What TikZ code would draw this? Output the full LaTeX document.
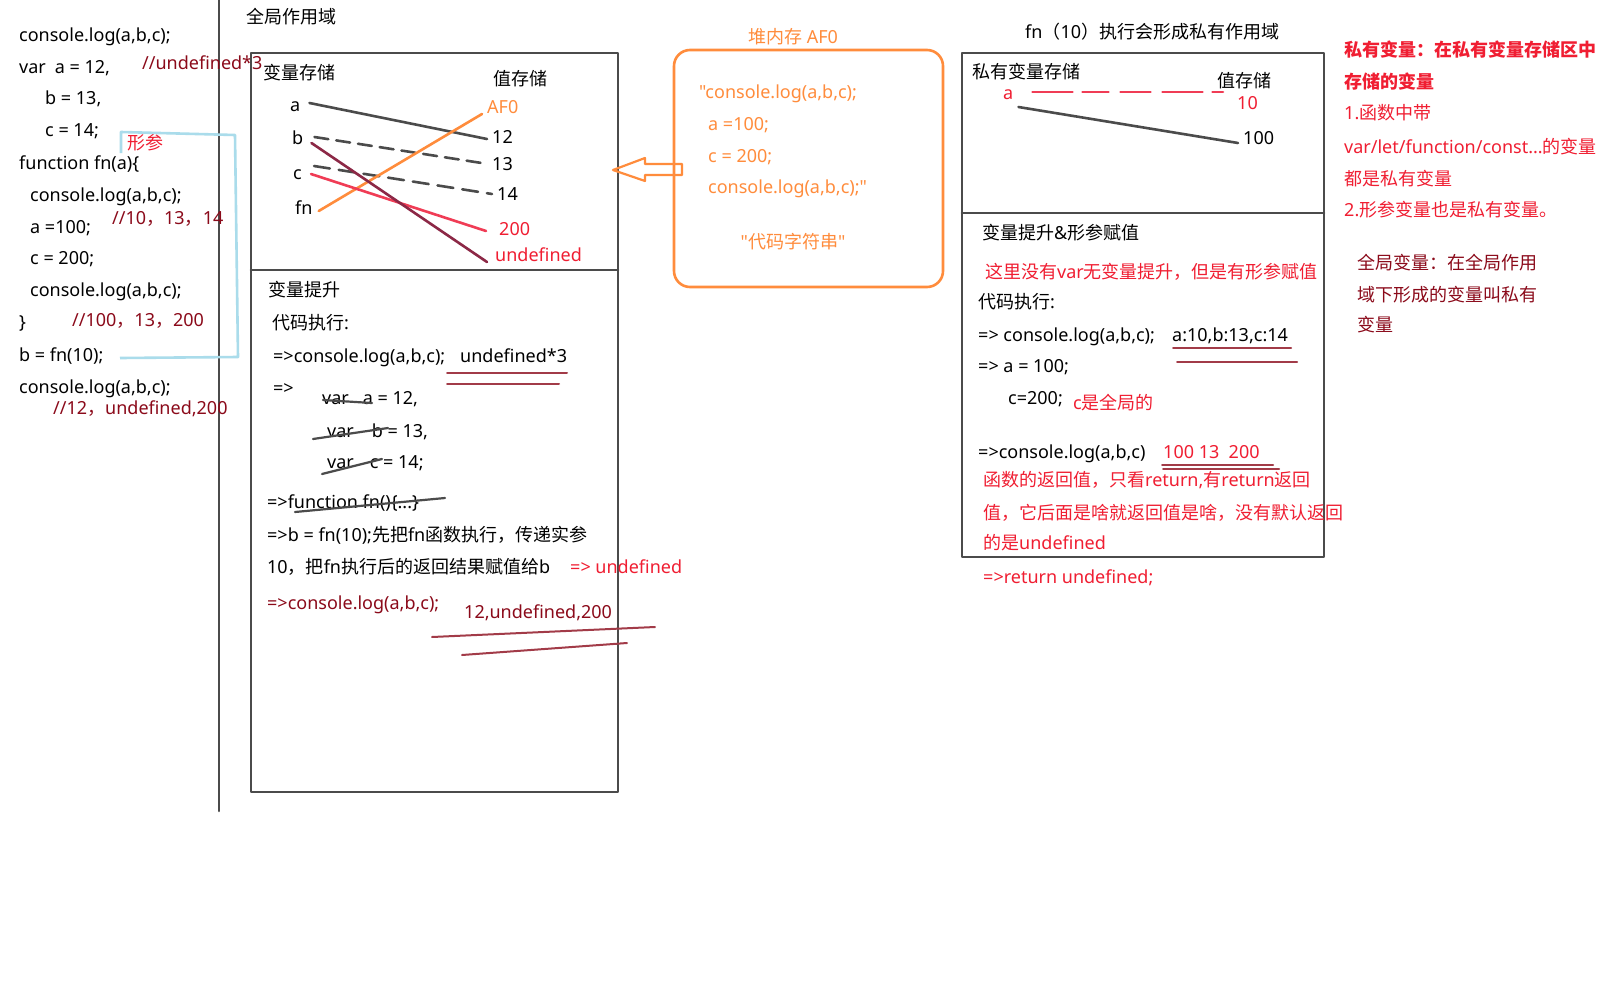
\documentclass[tikz,border=0pt]{standalone}
\usepackage{fontspec}
\setmainfont{Noto Sans}[Ligatures=TeXOff]
\newfontfamily\cjkfont{Noto Sans CJK SC}[Ligatures=TeXOff]
\XeTeXinterchartokenstate=1
\newXeTeXintercharclass\cjkclass
\newcount\cjkc
\cjkc="3000 \loop\XeTeXcharclass\cjkc=\cjkclass\relax\ifnum\cjkc<"303F \advance\cjkc by 1 \repeat
\cjkc="4E00 \loop\XeTeXcharclass\cjkc=\cjkclass\relax\ifnum\cjkc<"9FFF \advance\cjkc by 1 \repeat
\cjkc="FF00 \loop\XeTeXcharclass\cjkc=\cjkclass\relax\ifnum\cjkc<"FFEF \advance\cjkc by 1 \repeat
\XeTeXinterchartoks 0 \cjkclass = {\begingroup\cjkfont}
\XeTeXinterchartoks 4095 \cjkclass = {\begingroup\cjkfont}
\XeTeXinterchartoks \cjkclass 0 = {\endgroup}
\XeTeXinterchartoks \cjkclass 4095 = {\endgroup}
\newcommand\basefs{\fontsize{18}{22}\selectfont}
\definecolor{dred}{RGB}{139,10,26}
\definecolor{bred}{RGB}{240,30,50}
\definecolor{orng}{RGB}{255,140,60}
\definecolor{skb}{RGB}{170,220,235}
\definecolor{sk}{RGB}{75,75,75}
\definecolor{lnred}{RGB}{240,60,85}
\definecolor{lnmar}{RGB}{140,40,70}
\tikzset{
  every node/.style={inner sep=0pt, anchor=west, font=\basefs, text height=13pt, text depth=4pt, yshift=-2pt},
  frame/.style={draw=sk, line width=2.6pt, line cap=round, line join=round},
  sketch/.style={line width=2.6pt, line cap=round},
  uline/.style={dred!80, line width=2pt, line cap=round},
  strike/.style={sk, line width=2.2pt, line cap=round},
}
\begin{document}
\begin{tikzpicture}[x=1pt,y=-1pt]
\useasboundingbox (0,0) rectangle (1607,1007);
\fill[white] (0,0) rectangle (1607,1007);

% ---------- left divider ----------
\draw[frame] (219,0) -- (219,811);

% ---------- left code ----------
\node (c1) at (19,35) {console.log(a,b,c);};
\node (c2) at (19,67) {var\hspace{9pt}a = 12,};
\node (c3) at (45,98) {b = 13,};
\node (c4) at (45,130) {c = 14;};
\node (c5) at (19,163) {function fn(a)\{};
\node (c6) at (30,195) {console.log(a,b,c);};
\node (c7) at (30,227) {a =100;};
\node (c8) at (30,258) {c = 200;};
\node (c9) at (30,290) {console.log(a,b,c);};
\node (c10) at (19,322) {\}};
\node (c11) at (19,355) {b = fn(10);};
\node (c12) at (19,387) {console.log(a,b,c);};
\node[dred] (m1) at (142,63) {//undefined*3};
\node[dred] (m2) at (112,218) {//10，13，14};
\node[dred] (m3) at (72,320) {//100，13，200};
\node[dred] (m4) at (53,408) {//12，undefined,200};
\node[bred] (xc) at (127,143) {形参};
\draw[skb, line width=2.6pt, line join=round] (121,153) -- (121,132) -- (235,135) -- (238,357) -- (120,358);

% ---------- global scope ----------
\node (gtitle) at (246,17) {全局作用域};
\draw[frame] (251,53) rectangle (618,792);
\draw[frame] (251,270) -- (618,270);

\node (vs) at (263,73) {变量存储};
\node (zs) at (493,79) {值存储};
\node (na) at (290,105) {a};
\node (nb) at (292,138) {b};
\node (nc) at (293,173) {c};
\node (nfn) at (295,208) {fn};
\node (v12) at (492,137) {12};
\node (v13) at (492,164) {13};
\node (v14) at (497,194) {14};
\node[orng] (vaf) at (487,107) {AF0};
\node[bred] (v200) at (499,229) {200};
\node[bred] (vund) at (495,255) {undefined};

\draw[sketch, sk] ([xshift=9pt,yshift=4pt]na.east) -- ([xshift=-5pt,yshift=0pt]v12.west);
\draw[sketch, sk, dash pattern=on 14pt off 8pt] ([xshift=11pt,yshift=3pt]nb.east) -- ([xshift=-4pt,yshift=2pt]v13.west);
\draw[sketch, sk, dash pattern=on 16pt off 9pt] ([xshift=12pt,yshift=9pt]nc.east) -- ([xshift=-5pt,yshift=2pt]v14.west);
\draw[sketch, orng] ([xshift=6pt,yshift=-1pt]nfn.east) -- ([xshift=-5pt,yshift=-5pt]vaf.west);
\draw[sketch, lnred] ([xshift=9pt,yshift=1pt]nc.east) -- ([xshift=-13pt,yshift=0pt]v200.west);
\draw[sketch, lnmar] ([xshift=8pt,yshift=-3pt]nb.east) -- ([xshift=-8pt,yshift=-5pt]vund.west);

\node (ts) at (268,290) {变量提升};
\node (dm) at (272,323) {代码执行:};
\node (l1) at (273,356) {=>console.log(a,b,c);};
\node (u3) at (460,356) {undefined*3};
\draw[uline] (447,373) -- (567,373);
\draw[uline] (447,384) -- (559,384);
\node (l2) at (273,388) {=>};
\node (l3) at (322,398) {var\hspace{14pt}a = 12,};
\node (l4) at (327,431) {var\hspace{18pt}b = 13,};
\node (l5) at (327,462) {var\hspace{16pt}c = 14;};
\draw[strike] (323,400) -- (372,403);
\draw[strike] (313,439) -- (388,428);
\draw[strike] (322,474) -- (382,459);
\node (l6) at (267,502) {=>function fn()\{...\}};
\draw[strike] (295,512) -- (445,498);
\node (l7) at (267,535) {=>b = fn(10);先把fn函数执行，传递实参};
\node (l8) at (267,567) {10，把fn执行后的返回结果赋值给b};
\node[bred] (l9) at (570,567) {=> undefined};
\node[dred] (l10) at (267,603) {=>console.log(a,b,c);};
\node[dred] (l11) at (464,612) {12,undefined,200};
\draw[uline] (432,637) -- (655,627);
\draw[uline] (462,655) -- (627,643);

% ---------- heap ----------
\node[orng, anchor=center] (heapt) at (793,37) {堆内存 AF0};
\draw[orng, line width=2.6pt, rounded corners=16pt] (674,50) rectangle (943,287);
\node[orng] (h1) at (699,92) {"console.log(a,b,c);};
\node[orng] (h2) at (708,124) {a =100;};
\node[orng] (h3) at (708,156) {c = 200;};
\node[orng] (h4) at (708,187) {console.log(a,b,c);"};
\node[orng, anchor=center] (h5) at (793,242) {"代码字符串"};
\draw[orng, line width=2.2pt, line join=round] (682,164) -- (645,164) -- (645,158) -- (613,170) -- (645,181) -- (645,175) -- (682,175) -- cycle;

% ---------- private scope ----------
\node (ptitle) at (1025,32) {fn（10）执行会形成私有作用域};
\draw[frame] (962,53) rectangle (1324,557);
\draw[frame] (962,213) -- (1324,213);
\node (pvs) at (972,72) {私有变量存储};
\node (pzs) at (1217,81) {值存储};
\node[bred] (pa) at (1003,93) {a};
\node[bred] (p10) at (1237,103) {10};
\node (p100) at (1243,138) {100};
\draw[sketch, lnred, dash pattern=on 40pt off 10pt on 26pt off 12pt on 30pt off 12pt] ([xshift=19pt,yshift=3pt]pa.east) -- ([xshift=-14pt,yshift=13pt]p10.west);
\draw[sketch, sk] ([xshift=5pt,yshift=-12pt]pa.east) -- ([xshift=-5pt,yshift=-3pt]p100.west);

\node (pt) at (982,233) {变量提升\&形参赋值};
\node[bred] (pn) at (985,272) {这里没有var无变量提升，但是有形参赋值};
\node (pd) at (978,302) {代码执行:};
\node (pl1) at (978,335) {=> console.log(a,b,c);};
\node (pr1) at (1172,335) {a:10,b:13,c:14};
\draw[uline] (1173,348) -- (1291,348);
\draw[uline] (1177,362) -- (1297,362);
\node (pl2) at (978,366) {=> a = 100;};
\node (pl3) at (1008,398) {c=200;};
\node[bred] (pc) at (1073,403) {c是全局的};
\node (pl4) at (978,452) {=>console.log(a,b,c)};
\node[bred] (pr4) at (1163,452) {100 13\ \ 200};
\draw[uline] (1162,465) -- (1273,465);
\draw[uline] (1163,469) -- (1279,469);
\node[bred] (pf1) at (983,480) {函数的返回值，只看return,有return返回};
\node[bred] (pf2) at (983,513) {值，它后面是啥就返回值是啥，没有默认返回};
\node[bred] (pf3) at (983,543) {的是undefined};
\node[bred] (pf4) at (983,577) {=>return undefined;};

% ---------- notes ----------
\node[bred, font=\basefs\bfseries] (n1) at (1344,50) {私有变量：在私有变量存储区中};
\node[bred, font=\basefs\bfseries] (n2) at (1344,82) {存储的变量};
\node[bred] (n3) at (1344,113) {1.函数中带};
\node[bred] (n4) at (1344,147) {var/let/function/const...的变量};
\node[bred] (n5) at (1344,179) {都是私有变量};
\node[bred] (n6) at (1344,210) {2.形参变量也是私有变量。};
\node[dred] (g1) at (1357,263) {全局变量：在全局作用};
\node[dred] (g2) at (1357,295) {域下形成的变量叫私有};
\node[dred] (g3) at (1357,325) {变量};
\end{tikzpicture}
\end{document}
